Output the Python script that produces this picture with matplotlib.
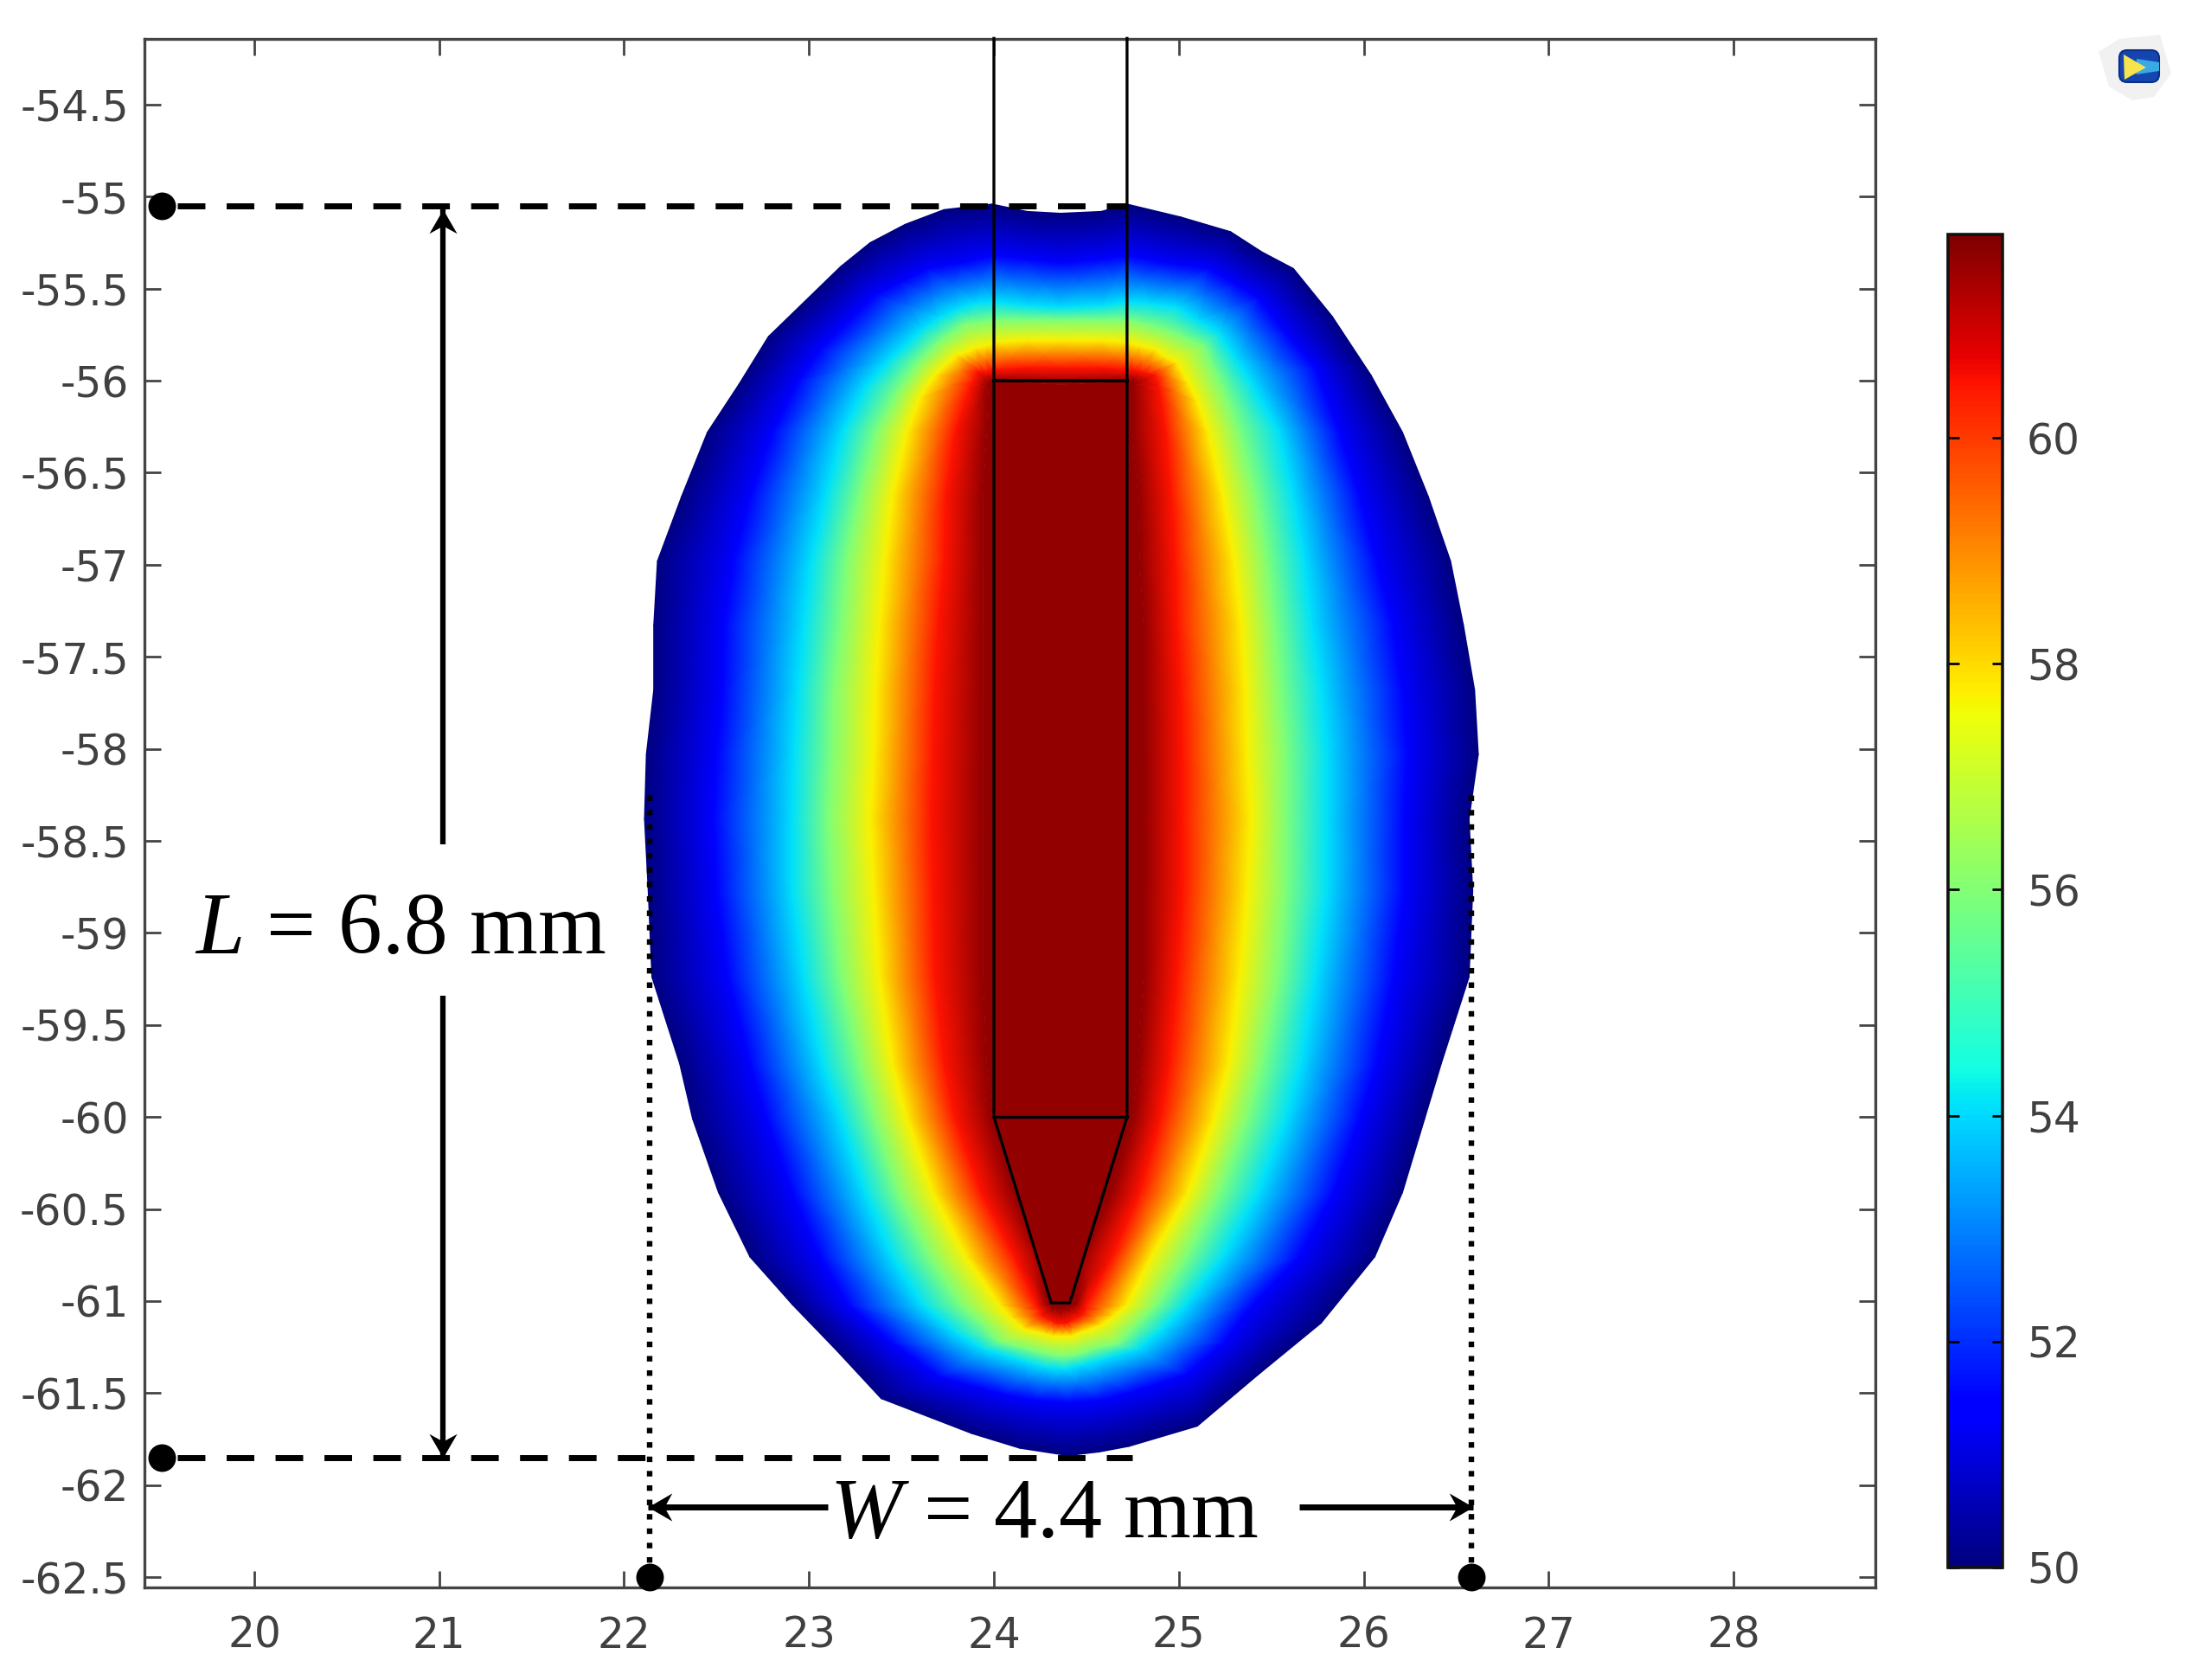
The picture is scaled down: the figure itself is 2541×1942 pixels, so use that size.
import numpy as np
import matplotlib
matplotlib.use("Agg")
import matplotlib.pyplot as plt
from matplotlib.markers import MarkerStyle
from matplotlib.path import Path
from matplotlib.transforms import Affine2D
from matplotlib.patches import FancyBboxPatch, Polygon

plt.rcParams['font.family'] = 'DejaVu Sans'
plt.rcParams['mathtext.fontset'] = 'custom'
plt.rcParams['mathtext.rm'] = 'Liberation Serif'
plt.rcParams['mathtext.it'] = 'Liberation Serif:italic'

X_TICKS = [20, 21, 22, 23, 24, 25, 26, 27, 28]
Y_TICKS = [-54.5, -55, -55.5, -56, -56.5, -57, -57.5, -58, -58.5, -59, -59.5, -60, -60.5, -61, -61.5, -62, -62.5]
Y_LABELS = ['-54.5', '-55', '-55.5', '-56', '-56.5', '-57', '-57.5', '-58', '-58.5', '-59', '-59.5', '-60', '-60.5', '-61', '-61.5', '-62', '-62.5']
CBAR_TICKS = [50, 52, 54, 56, 58, 60]
T_MIN, T_MAX = 50, 61.8

# isotherm temperatures of the rings, outer edge to needle
T_LEVELS = [50, 51.4, 54.1, 55.9, 57.7, 60.5, 61.6]

# isotherm vertices: one row per station around the
# lesion (top centre, down the left side, bottom, up the right side)
TOP_LEFT_X = [
    [24.36, 24.36, 24.36, 24.36, 24.36, 24.36, 24.36],
    [24.18, 24.18, 24.18, 24.18, 24.18, 24.18, 24.18],
    [23.99, 24.00, 24.00, 24.02, 24.02, 24.02, 24.00],
    [23.73, 23.82, 23.90, 23.93, 23.96, 23.99, 23.99],
    [23.52, 23.64, 23.80, 23.85, 23.90, 23.96, 23.99],
    [23.33, 23.50, 23.70, 23.77, 23.84, 23.93, 23.98],
    [23.17, 23.36, 23.61, 23.70, 23.80, 23.91, 23.98],
    [22.78, 23.06, 23.42, 23.58, 23.68, 23.89, 23.97],
    [22.62, 22.94, 23.30, 23.47, 23.60, 23.87, 23.97],
]
TOP_LEFT_Y = [
    [-55.09, -55.36, -55.60, -55.67, -55.78, -55.93, -56.02],
    [-55.08, -55.34, -55.59, -55.67, -55.78, -55.93, -56.01],
    [-55.04, -55.32, -55.57, -55.67, -55.79, -55.94, -56.00],
    [-55.07, -55.36, -55.58, -55.68, -55.81, -55.94, -56.00],
    [-55.15, -55.39, -55.61, -55.69, -55.82, -55.95, -56.00],
    [-55.25, -55.46, -55.66, -55.74, -55.85, -55.95, -56.01],
    [-55.38, -55.53, -55.72, -55.79, -55.86, -55.95, -56.01],
    [-55.76, -55.83, -55.90, -55.91, -55.97, -56.00, -56.02],
    [-56.02, -56.00, -56.04, -56.07, -56.09, -56.04, -56.03],
]
SIDE_Y = [-56.28, -56.63, -56.98, -57.33, -57.68, -58.03, -58.38, -58.77, -59.24, -59.71, -60.01, -60.41, -60.76, -61.02]
LEFT_X = [
    [22.45, 22.80, 23.18, 23.36, 23.53, 23.79, 23.96],
    [22.31, 22.68, 23.09, 23.27, 23.45, 23.74, 23.94],
    [22.18, 22.59, 23.01, 23.20, 23.41, 23.73, 23.94],
    [22.16, 22.54, 22.97, 23.17, 23.38, 23.70, 23.94],
    [22.16, 22.53, 22.94, 23.13, 23.36, 23.68, 23.94],
    [22.12, 22.50, 22.92, 23.12, 23.35, 23.67, 23.94],
    [22.11, 22.48, 22.91, 23.10, 23.33, 23.66, 23.94],
    [22.13, 22.50, 22.91, 23.12, 23.35, 23.67, 23.94],
    [22.15, 22.56, 22.97, 23.17, 23.38, 23.68, 23.94],
    [22.30, 22.68, 23.07, 23.27, 23.45, 23.73, 23.96],
    [22.37, 22.77, 23.17, 23.35, 23.53, 23.79, 23.99],
    [22.51, 22.91, 23.30, 23.48, 23.67, 23.93, 24.11],
    [22.68, 23.06, 23.45, 23.65, 23.85, 24.11, 24.26],
    [22.91, 23.21, 23.61, 23.82, 24.03, 24.23, 24.29],
]
BOTTOM_X = [
    [23.15, 23.45, 23.79, 23.93, 24.09, 24.25, 24.31],
    [23.39, 23.70, 23.94, 24.03, 24.16, 24.26, 24.32],
    [23.88, 24.06, 24.17, 24.22, 24.28, 24.32, 24.34],
    [24.14, 24.23, 24.28, 24.30, 24.32, 24.34, 24.35],
    [24.40, 24.40, 24.38, 24.37, 24.37, 24.37, 24.36],
    [24.57, 24.57, 24.47, 24.45, 24.42, 24.39, 24.37],
    [24.73, 24.73, 24.58, 24.54, 24.47, 24.41, 24.38],
    [25.10, 25.04, 24.78, 24.67, 24.58, 24.47, 24.41],
    [25.43, 25.24, 24.92, 24.78, 24.65, 24.49, 24.43],
    [25.77, 25.40, 25.04, 24.88, 24.72, 24.50, 24.44],
]
BOTTOM_Y = [
    [-61.27, -61.23, -61.17, -61.12, -61.09, -61.05, -61.03],
    [-61.53, -61.41, -61.26, -61.22, -61.15, -61.08, -61.04],
    [-61.72, -61.51, -61.33, -61.27, -61.18, -61.11, -61.04],
    [-61.80, -61.54, -61.36, -61.29, -61.19, -61.12, -61.04],
    [-61.84, -61.55, -61.37, -61.30, -61.19, -61.12, -61.05],
    [-61.82, -61.54, -61.35, -61.29, -61.19, -61.12, -61.04],
    [-61.79, -61.50, -61.32, -61.26, -61.17, -61.11, -61.04],
    [-61.68, -61.40, -61.26, -61.23, -61.13, -61.08, -61.03],
    [-61.40, -61.23, -61.15, -61.12, -61.08, -61.05, -61.02],
    [-61.12, -61.02, -61.02, -61.02, -61.02, -61.02, -61.02],
]
RIGHT_X = [
    [26.06, 25.65, 25.24, 25.04, 24.85, 24.64, 24.47],
    [26.21, 25.84, 25.43, 25.22, 25.05, 24.79, 24.63],
    [26.33, 25.98, 25.58, 25.37, 25.19, 24.90, 24.75],
    [26.42, 26.07, 25.66, 25.45, 25.27, 24.95, 24.78],
    [26.57, 26.16, 25.74, 25.54, 25.33, 24.99, 24.81],
    [26.59, 26.22, 25.80, 25.58, 25.37, 25.02, 24.81],
    [26.57, 26.22, 25.80, 25.58, 25.39, 25.02, 24.81],
    [26.62, 26.24, 25.80, 25.58, 25.37, 25.02, 24.81],
    [26.60, 26.21, 25.77, 25.55, 25.36, 25.01, 24.81],
    [26.54, 26.16, 25.72, 25.52, 25.34, 24.99, 24.81],
    [26.47, 26.07, 25.68, 25.48, 25.30, 24.98, 24.79],
    [26.35, 25.98, 25.62, 25.42, 25.24, 24.96, 24.78],
    [26.21, 25.87, 25.54, 25.33, 25.16, 24.93, 24.75],
]
RIGHT_Y = [-60.76, -60.41, -60.01, -59.71, -59.24, -58.77, -58.38, -58.03, -57.68, -57.33, -56.98, -56.63, -56.28]
TOP_RIGHT_X = [
    [26.04, 25.74, 25.40, 25.25, 25.10, 24.90, 24.75],
    [25.83, 25.58, 25.31, 25.19, 25.05, 24.89, 24.75],
    [25.62, 25.43, 25.22, 25.13, 24.99, 24.87, 24.76],
    [25.45, 25.30, 25.10, 25.02, 24.93, 24.83, 24.75],
    [25.28, 25.16, 24.99, 24.92, 24.87, 24.79, 24.75],
    [25.01, 24.93, 24.84, 24.81, 24.79, 24.75, 24.73],
    [24.72, 24.72, 24.72, 24.72, 24.72, 24.72, 24.72],
    [24.58, 24.58, 24.58, 24.58, 24.58, 24.58, 24.58],
    [24.36, 24.36, 24.36, 24.36, 24.36, 24.36, 24.36],
]
TOP_RIGHT_Y = [
    [-55.97, -55.93, -56.02, -56.07, -56.11, -56.07, -56.03],
    [-55.65, -55.74, -55.88, -55.94, -56.01, -56.02, -56.02],
    [-55.39, -55.55, -55.74, -55.81, -55.90, -55.97, -56.01],
    [-55.30, -55.47, -55.67, -55.76, -55.87, -55.96, -56.01],
    [-55.19, -55.39, -55.60, -55.72, -55.83, -55.95, -56.00],
    [-55.11, -55.36, -55.58, -55.69, -55.81, -55.94, -56.00],
    [-55.04, -55.32, -55.57, -55.67, -55.79, -55.94, -56.00],
    [-55.08, -55.34, -55.59, -55.67, -55.78, -55.93, -56.01],
    [-55.09, -55.36, -55.60, -55.67, -55.78, -55.93, -56.02],
]

# needle outline
NEEDLE_X = [24.00, 24.00, 24.31, 24.41, 24.72, 24.72]
NEEDLE_Y = [-54.14, -60.00, -61.01, -61.01, -60.00, -54.14]
NEEDLE_TOP_Y = -56.0
NEEDLE_BASE_Y = -60.0

# dimension annotations
L_X = 21.02
L_TOP, L_BOTTOM = -55.07, -61.85
L_GAP = (-58.52, -59.34)
W_Y = -62.12
W_LEFT, W_RIGHT = 22.13, 26.59
W_GAP = (23.10, 25.65)
DOT_X = 19.5
DASH_XSTART = 19.584
DASH_XEND = [24.72, 24.75]
DOTTED_TOP = -58.25
DOT_BOTTOM = -62.5

fig = plt.figure(figsize=(25.41, 19.42), dpi=100)
W, H = 2541, 1942
def rect(l, t, r, b):
    return [l / W, 1 - b / H, (r - l) / W, (b - t) / H]

ax = fig.add_axes(rect(167, 45, 2168, 1835))
ax.set_xlim(19.406, 28.767)
ax.set_ylim(-62.556, -54.143)

mesh_x = np.array(TOP_LEFT_X + LEFT_X + BOTTOM_X + RIGHT_X + TOP_RIGHT_X)
side_l = [[v] * 7 for v in SIDE_Y]
side_r = [[v] * 7 for v in RIGHT_Y]
mesh_y = np.array(TOP_LEFT_Y + side_l + BOTTOM_Y + side_r + TOP_RIGHT_Y)
mesh_t = np.tile(T_LEVELS, (mesh_x.shape[0], 1))
mesh = ax.pcolormesh(mesh_x, mesh_y, mesh_t, shading='gouraud', cmap='jet',
                     vmin=T_MIN, vmax=T_MAX, zorder=1)
ax.fill(mesh_x[:, -1], mesh_y[:, -1], color=mesh.cmap(mesh.norm(T_LEVELS[-1])), lw=0, zorder=1.2)

# needle
ax.plot(NEEDLE_X, NEEDLE_Y, color='black', lw=2.4, zorder=3, clip_on=False)
ax.plot([NEEDLE_X[1], NEEDLE_X[-1]], [NEEDLE_TOP_Y] * 2, color='black', lw=2.8, zorder=3)
ax.plot([NEEDLE_X[1], NEEDLE_X[-1]], [NEEDLE_BASE_Y] * 2, color='black', lw=2.4, zorder=3)

# axes styling
for s in ax.spines.values():
    s.set_linewidth(2.4)
    s.set_color('#444444')
ax.set_xticks(X_TICKS)
ax.set_yticks(Y_TICKS)
ax.set_yticklabels(Y_LABELS)
ax.tick_params(axis='both', direction='in', top=True, right=True, length=14, width=2,
               color='#444444', labelcolor='#404040', labelsize=35)
ax.tick_params(axis='x', pad=23)
ax.tick_params(axis='y', pad=13)

# dashed guides
dash = (0, (4.6, 3.54))
ax.plot([DASH_XSTART, DASH_XEND[0]], [L_TOP + 0.02] * 2, color='black', lw=5, ls=dash, zorder=4)
ax.plot([DASH_XSTART, DASH_XEND[1]], [L_BOTTOM] * 2, color='black', lw=5, ls=dash, zorder=4)
dots = (0, (1, 1.6))
ax.plot([W_LEFT + 0.01] * 2, [DOT_BOTTOM, DOTTED_TOP], color='black', lw=4.6, ls=dots, zorder=4)
ax.plot([W_RIGHT - 0.01] * 2, [DOT_BOTTOM, DOTTED_TOP], color='black', lw=4.6, ls=dots, zorder=4)

# end dots
ax.plot([DOT_X, DOT_X, W_LEFT + 0.01, W_RIGHT - 0.01],
        [L_TOP + 0.02, L_BOTTOM, DOT_BOTTOM, DOT_BOTTOM],
        ls='none', marker='o', ms=23, color='black', mew=0, zorder=5, clip_on=False)

# arrows: a shaft and a swept head at the tip
HEAD = Path([(0, 0), (-0.58, -1), (0, -0.68), (0.58, -1), (0, 0)],
            [Path.MOVETO, Path.LINETO, Path.LINETO, Path.LINETO, Path.CLOSEPOLY])
def arrow(a, b, lw, angle):
    ax.plot([a[0], b[0]], [a[1], b[1]], color='black', lw=lw, solid_capstyle='butt', zorder=5)
    ax.plot([b[0]], [b[1]], ls='none', ms=40, mew=0, color='black', zorder=5.1,
            marker=MarkerStyle(HEAD.transformed(Affine2D().rotate_deg(angle))))
arrow((L_X, L_GAP[0]), (L_X, L_TOP), 4.5, 0)
arrow((L_X, L_GAP[1]), (L_X, L_BOTTOM), 4.5, 180)
arrow((W_GAP[0], W_Y), (W_LEFT, W_Y), 5, 90)
arrow((W_GAP[1], W_Y), (W_RIGHT, W_Y), 5, -90)

# dimension labels
ax.text(19.677, -59.11, r'$\mathit{L}$ = 6.8 mm', family='Liberation Serif', fontsize=73,
        ha='left', va='baseline', color='black', zorder=6)
ax.text(23.113, -62.283, r'$\mathit{W}$ = 4.4 mm', family='Liberation Serif', fontsize=72,
        ha='left', va='baseline', color='black', zorder=6)

# colour bar
cax = fig.add_axes(rect(2252, 271, 2315, 1812))
cb = fig.colorbar(mesh, cax=cax, ticks=CBAR_TICKS)
cb.outline.set_linewidth(2.6)
cb.outline.set_edgecolor('#111111')
cax.tick_params(direction='in', left=True, right=True, length=9, width=2, color='black',
                labelcolor='#404040', labelsize=35, pad=20)

# small logo in the upper right corner
ov = fig.add_axes([0, 0, 1, 1], facecolor='none', zorder=10)
ov.set_xlim(0, W)
ov.set_ylim(H, 0)
ov.axis('off')
ov.add_patch(Polygon([(2426, 60), (2450, 45), (2497, 40), (2510, 85), (2490, 112), (2465, 116), (2438, 100)],
                     closed=True, fc='#f1f1f1', ec='none'))
ov.add_patch(FancyBboxPatch((2450, 58), 46, 37, boxstyle='round,pad=0,rounding_size=9',
                            fc='#1546b0', ec='#0c2f86', lw=1.5))
ov.add_patch(Polygon([(2470, 68), (2496, 72), (2496, 82), (2470, 86)], closed=True, fc='#39a9e6', ec='none'))
ov.add_patch(Polygon([(2455, 63), (2456, 92), (2481, 78)], closed=True, fc='#f7e34e', ec='none'))

fig.savefig('out.png', dpi=100, facecolor='white')
